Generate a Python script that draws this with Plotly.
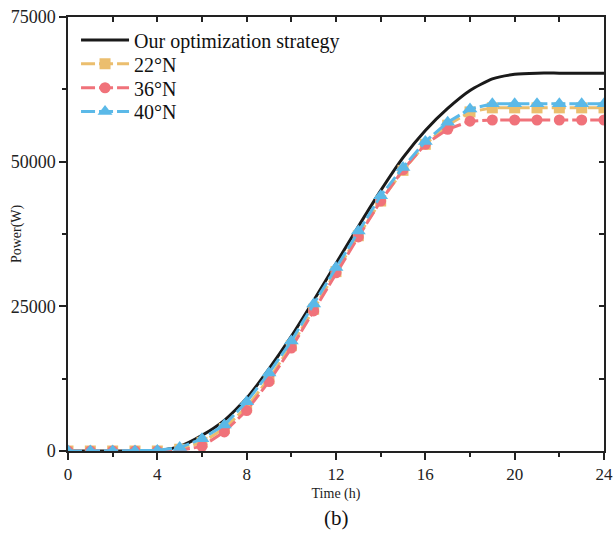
import plotly.graph_objects as go

hours = list(range(25))
optimal = [0, 0, 0, 0, 0, 800, 2700, 5300, 9100, 14200, 19800, 26000, 32400, 38800, 45000, 50700, 55400, 59200, 62300, 64300, 65100, 65300, 65300, 65300, 65300]
lat22 = [0, 0, 0, 0, 0, 300, 1500, 3900, 7600, 12500, 18200, 24500, 31000, 37200, 43200, 48500, 53000, 56300, 58600, 59300, 59300, 59300, 59300, 59300, 59300]
lat36 = [0, 0, 0, 0, 0, 100, 800, 3300, 7000, 12000, 17800, 24200, 30800, 37000, 43200, 48600, 53000, 55600, 57000, 57200, 57200, 57200, 57200, 57200, 57200]
lat40 = [0, 0, 0, 0, 100, 600, 2100, 4500, 8500, 13500, 19000, 25400, 31700, 38000, 44100, 49000, 53500, 56800, 59100, 60000, 60000, 60000, 60000, 60000, 60000]

x_ticks = [0, 4, 8, 12, 16, 20, 24]
y_ticks = [0, 25000, 50000, 75000]
y_ticktext = ["0", "25000", "50000", "75000"]

names = ["Our optimization strategy", "22°N", "36°N", "40°N"]
colors = ["#1a1a1a", "#EBBE6E", "#F0727A", "#5BB9E8"]
symbols = [None, "square", "circle", "triangle-up"]
legend_ids = ["legend", "legend2", "legend3", "legend4"]
legend_rows = [0.947, 0.892, 0.837, 0.782]

fig = go.Figure()
fig.add_trace(go.Scatter(x=hours, y=optimal, name=names[0], mode="lines", legend=legend_ids[0],
                         line=dict(color=colors[0], width=3, shape="spline", smoothing=0.6)))
for vals, nm, c, s, lg in zip([lat22, lat36, lat40], names[1:], colors[1:], symbols[1:], legend_ids[1:]):
    fig.add_trace(go.Scatter(x=hours, y=vals, name=nm, mode="lines+markers", legend=lg,
                             line=dict(color=c, width=3, dash="14px,4px"),
                             marker=dict(symbol=s, size=11 if s != "triangle-up" else 13, color=c)))

# invisible trace for mirrored (inside) ticks on top/right
fig.add_trace(go.Scatter(x=[0, 24], y=[0, 75000], xaxis="x2", yaxis="y2", mode="markers",
                         marker=dict(opacity=0), showlegend=False, hoverinfo="skip"))

font = "Liberation Serif"
legend_common = dict(x=0.015, xanchor="left", yanchor="middle", bgcolor="rgba(0,0,0,0)",
                     font=dict(family=font, size=20, color="#111"), itemwidth=48)
layout_legends = {lg: dict(y=yy, **legend_common) for lg, yy in zip(legend_ids, legend_rows)}

fig.update_layout(
    width=615, height=534,
    margin=dict(l=68, r=11, t=17, b=83),
    paper_bgcolor="white", plot_bgcolor="white",
    font=dict(family=font, color="#222"),
    showlegend=True,
    xaxis=dict(range=[0, 24], tickvals=x_ticks, ticks="outside", ticklen=7, automargin=False,
               tickwidth=1.5, tickcolor="#222", showline=True, linecolor="#222", linewidth=1.5,
               showgrid=False, zeroline=False, tickfont=dict(size=17, family=font),
               minor=dict(tickvals=[2, 6, 10, 14, 18, 22], ticks="outside", ticklen=4, tickwidth=1.5, tickcolor="#222"),
               title=dict(text="Time (h)", font=dict(size=14, family=font), standoff=5)),
    yaxis=dict(range=[0, 75000], tickvals=y_ticks, ticktext=y_ticktext, ticks="outside", ticklen=7,
               automargin=False,
               tickwidth=1.5, tickcolor="#222", showline=True, linecolor="#222", linewidth=1.5,
               showgrid=False, zeroline=False, tickfont=dict(size=18, family=font),
               minor=dict(tickvals=[12500, 37500, 62500], ticks="outside", ticklen=4, tickwidth=1.5, tickcolor="#222")),
    xaxis2=dict(range=[0, 24], overlaying="x", side="top", anchor="y", tickvals=list(range(2, 24, 2)),
                automargin=False,
                ticks="inside", ticklen=5, tickwidth=1.5, tickcolor="#222", showticklabels=False,
                showline=True, linecolor="#222", linewidth=1.5, showgrid=False, zeroline=False),
    yaxis2=dict(range=[0, 75000], overlaying="y", side="right", anchor="x", tickvals=[12500, 25000, 37500, 50000, 62500],
                automargin=False,
                ticks="inside", ticklen=5, tickwidth=1.5, tickcolor="#222", showticklabels=False,
                showline=True, linecolor="#222", linewidth=1.5, showgrid=False, zeroline=False),
    annotations=[
        dict(text="(b)", x=0.5, y=-0.154, xref="paper", yref="paper", xanchor="center",
             yanchor="middle", showarrow=False, font=dict(size=21, family=font, color="#111")),
        dict(text="Power(W)", x=-0.095, y=0.5, xref="paper", yref="paper", xanchor="center",
             yanchor="middle", textangle=-90, showarrow=False, font=dict(size=14, family=font, color="#222")),
    ],
    **layout_legends,
)
fig.write_html("out.html", config={"displayModeBar": False},
               post_script="document.body.style.margin='0';")
